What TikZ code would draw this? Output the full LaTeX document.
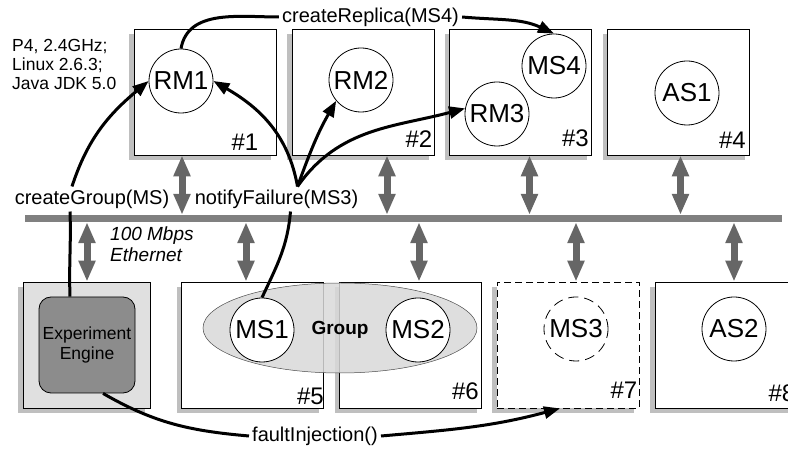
\documentclass[tikz,border=0pt]{standalone}
\usepackage{fontspec}
\setmainfont{Liberation Sans}
\usetikzlibrary{arrows.meta,shadows,shapes.geometric}

\tikzset{
  host/.style={draw, line width=0.8pt, fill=white, minimum width=142pt, minimum height=126pt, inner sep=0pt,
    drop shadow={shadow xshift=-5pt, shadow yshift=-5pt, fill=black!25, opacity=1}},
  proc/.style={circle, draw, line width=0.8pt, fill=white, minimum size=64pt, inner sep=0pt, font=\fontsize{26}{28}\selectfont},
  tag/.style={anchor=south east, inner sep=0pt, font=\fontsize{24}{26}\selectfont},
  msg/.style={inner sep=3pt, font=\fontsize{20}{22}\selectfont},
  wire/.style={draw, line width=3pt},
  call/.style={wire, -{Triangle[length=16pt,width=12pt]}},
  link/.style={draw=black!60, line width=7pt, {Triangle[length=21pt,width=16pt]}-{Triangle[length=21pt,width=16pt]}},
}

\begin{document}
\begin{tikzpicture}[x=1pt,y=1pt]
  \useasboundingbox (0,0) rectangle (788,450);

  % hosts
  \node[host] (b1) at (205,358) {};
  \node[host] (b2) at (363,358) {};
  \node[host] (b3) at (520.5,358) {};
  \node[host] (b4) at (678.5,358) {};
  \node[host, fill=black!12, minimum width=127pt] (ee) at (86.5,105) {};
  \node[host] (b5) at (252.5,105) {};
  \node[host] (b6) at (410.5,105) {};
  \node[host, dash pattern=on 7pt off 4pt] (b7) at (568,105) {};
  \node[host] (b8) at (726,105) {};

  \foreach \b/\t/\dx/\dy in {b1/1/-18/5, b2/2/-2/8, b3/3/-3/8, b4/4/-4/7, b5/5/0/3, b6/6/-3/8, b7/7/-2/10, b8/8/-2/6}
    \node[tag] (tag\t) at ([xshift=\dx pt, yshift=\dy pt]\b.south east) {\#\t};

  % group and engine
  \node[ellipse, draw=black!70, line width=0.5pt, fill=black!15, fill opacity=0.85, minimum width=274pt, minimum height=90pt] (grp) at (340,122) {};
  \node[font=\bfseries\fontsize{19}{21}\selectfont] (grplbl) at (340,120) {Group};
  \node[draw, line width=0.8pt, fill=black!45, rounded corners=12pt, minimum width=96pt, minimum height=96pt,
    align=center, font=\fontsize{17.5}{20}\selectfont] (engine) at (87,105) {Experiment\\Engine};

  % network
  \node[fill=black!50, minimum width=757pt, minimum height=7pt, inner sep=0pt] (bus) at (403.5,231.5) {};
  \foreach \b/\dx in {b1/-23, b2/24, b3/9, b4/2}{
    \coordinate (t\b) at ([xshift=\dx pt]\b.south);
    \draw[link] (t\b) -- (t\b |- bus.north);
  }
  \foreach \b/\dx in {ee/0.5, b5/-6.5, b6/8.5, b7/8, b8/8}{
    \coordinate (t\b) at ([xshift=\dx pt]\b.north);
    \draw[link] (t\b |- bus.south) -- (t\b);
  }

  % processes
  \node[proc] (RM1) at (181,369) {RM1};
  \node[proc] (RM2) at (361,370) {RM2};
  \node[proc] (MS4) at (554,384) {MS4};
  \node[proc] (RM3) at (497,336) {RM3};
  \node[proc] (AS1) at (687,357) {AS1};
  \node[proc] (MS1) at (262,120) {MS1};
  \node[proc] (MS2) at (418,120) {MS2};
  \node[proc, dash pattern=on 10pt off 6pt] (MS3) at (576,121) {MS3};
  \node[proc] (AS2) at (734,121) {AS2};

  % texts
  \node[anchor=west, align=left, inner sep=0pt, font=\fontsize{17.5}{19}\selectfont] (specs) at (12,386) {P4, 2.4GHz;\\Linux 2.6.3;\\Java JDK 5.0};
  \node[anchor=west, align=left, inner sep=0pt, font=\itshape\fontsize{19}{21}\selectfont] (net) at (110,206) {100 Mbps\\Ethernet};
  \node[msg] (lblReplica) at (370.5,433) {createReplica(MS4)};
  \node[msg] (lblGroup) at (92,251) {createGroup(MS)};
  \node[msg] (lblNotify) at (276.5,251) {notifyFailure(MS3)};
  \node[msg] (lblFault) at (315,14) {faultInjection()};

  % calls
  \draw[wire] (RM1.north) to[out=80,in=180] (lblReplica.west);
  \draw[call] (lblReplica.east) to[out=-5,in=155] (MS4.north);
  \draw[wire] ([xshift=-17pt]engine.north) to[out=92,in=-88] ([xshift=-22pt]lblGroup.south);
  \draw[call] ([xshift=-20pt]lblGroup.north) to[out=72,in=220] (RM1.west);
  \draw[wire] (MS1.north) to[out=65,in=-95] ([xshift=14pt]lblNotify.south);
  \coordinate (nf) at ([xshift=21pt]lblNotify.north);
  \draw[call] (nf) to[out=100,in=-30] (RM1.east);
  \draw[call] (nf) to[out=70,in=240] (RM2.220);
  \draw[call] (nf) to[out=55,in=195] (RM3.170);
  \draw[wire] ([xshift=16pt]engine.south) to[out=-30,in=175] (lblFault.west);
  \draw[call] (lblFault.east) to[out=5,in=195] ([xshift=-8pt]b7.south);
\end{tikzpicture}
\end{document}
